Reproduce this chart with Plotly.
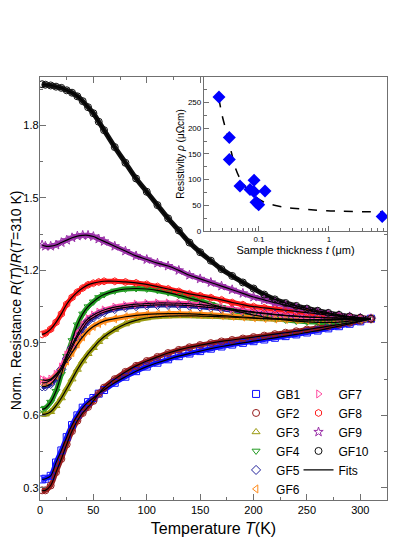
import plotly.graph_objects as go

# temperature grid (K) and normalised resistance R(T)/R(310 K) per sample
T = [2, 5, 10, 15, 20, 25, 30, 35, 40, 45, 50, 55, 60, 70, 80, 90, 100, 110, 120, 130,
     140, 150, 160, 170, 180, 190, 200, 210, 220, 230, 240, 250, 260, 270, 280, 290, 300, 310]

gb1 = [0.335, 0.338, 0.35, 0.405, 0.455, 0.51, 0.56, 0.60, 0.632, 0.655, 0.672, 0.69, 0.705,
       0.735, 0.76, 0.783, 0.802, 0.818, 0.832, 0.845, 0.856, 0.866, 0.876, 0.885, 0.893, 0.90,
       0.907, 0.914, 0.921, 0.928, 0.935, 0.943, 0.951, 0.96, 0.969, 0.979, 0.989, 1.0]
gf2 = [0.29, 0.29, 0.31, 0.365, 0.42, 0.48, 0.535, 0.578, 0.61, 0.635, 0.66, 0.69, 0.715,
       0.75, 0.78, 0.805, 0.825, 0.842, 0.858, 0.871, 0.882, 0.891, 0.899, 0.906, 0.912, 0.918,
       0.924, 0.93, 0.936, 0.942, 0.948, 0.955, 0.962, 0.969, 0.976, 0.983, 0.991, 1.0]
gf3 = [0.605, 0.605, 0.615, 0.64, 0.672, 0.71, 0.75, 0.79, 0.825, 0.855, 0.88, 0.905, 0.925,
       0.955, 0.978, 0.993, 1.003, 1.008, 1.011, 1.012, 1.012, 1.011, 1.01, 1.008, 1.006, 1.004,
       1.002, 1.0, 0.999, 0.998, 0.997, 0.996, 0.996, 0.996, 0.997, 0.998, 0.999, 1.0]
gf4 = [0.625, 0.63, 0.655, 0.70, 0.77, 0.845, 0.91, 0.975, 1.02, 1.05, 1.07, 1.088, 1.10,
       1.115, 1.123, 1.125, 1.123, 1.117, 1.108, 1.097, 1.085, 1.073, 1.06, 1.047, 1.035, 1.025,
       1.015, 1.007, 1.0, 0.995, 0.99, 0.987, 0.985, 0.985, 0.986, 0.99, 0.995, 1.0]
gf5 = [0.72, 0.72, 0.73, 0.755, 0.79, 0.835, 0.88, 0.925, 0.96, 0.99, 1.005, 1.018, 1.027,
       1.04, 1.047, 1.052, 1.055, 1.057, 1.057, 1.056, 1.054, 1.05, 1.046, 1.041, 1.036, 1.031,
       1.026, 1.021, 1.017, 1.013, 1.01, 1.007, 1.005, 1.003, 1.002, 1.001, 1.0, 1.0]
gf6 = [0.735, 0.735, 0.745, 0.765, 0.79, 0.825, 0.86, 0.895, 0.925, 0.95, 0.968, 0.98, 0.99,
       1.0, 1.008, 1.014, 1.018, 1.02, 1.021, 1.021, 1.02, 1.018, 1.016, 1.013, 1.01, 1.007,
       1.004, 1.001, 0.999, 0.997, 0.995, 0.994, 0.994, 0.994, 0.995, 0.996, 0.998, 1.0]
gf7 = [0.748, 0.745, 0.75, 0.77, 0.80, 0.85, 0.89, 0.935, 0.975, 1.0, 1.015, 1.027, 1.036,
       1.048, 1.055, 1.06, 1.063, 1.065, 1.065, 1.064, 1.062, 1.058, 1.053, 1.047, 1.04, 1.034,
       1.028, 1.023, 1.018, 1.014, 1.011, 1.008, 1.006, 1.004, 1.003, 1.002, 1.001, 1.0]
gf8 = [0.935, 0.94, 0.957, 0.985, 1.02, 1.06, 1.088, 1.11, 1.127, 1.14, 1.147, 1.152, 1.155,
       1.155, 1.152, 1.148, 1.142, 1.133, 1.123, 1.113, 1.103, 1.095, 1.087, 1.078, 1.067, 1.058,
       1.05, 1.045, 1.04, 1.035, 1.03, 1.025, 1.02, 1.015, 1.01, 1.007, 1.003, 1.0]
gf9 = [1.305, 1.30, 1.30, 1.305, 1.315, 1.325, 1.335, 1.342, 1.345, 1.345, 1.34, 1.33, 1.32,
       1.30, 1.28, 1.26, 1.245, 1.23, 1.218, 1.20, 1.18, 1.165, 1.15, 1.135, 1.12, 1.105,
       1.09, 1.078, 1.066, 1.055, 1.045, 1.036, 1.028, 1.02, 1.013, 1.008, 1.003, 1.0]
gf10 = [1.97, 1.968, 1.965, 1.96, 1.955, 1.945, 1.935, 1.92, 1.90, 1.875, 1.85, 1.815, 1.78,
        1.71, 1.645, 1.58, 1.525, 1.47, 1.415, 1.365, 1.315, 1.275, 1.24, 1.205, 1.177, 1.15,
        1.125, 1.1, 1.08, 1.065, 1.053, 1.042, 1.033, 1.024, 1.016, 1.009, 1.004, 1.0]

names = ["GB1", "GF2", "GF3", "GF4", "GF5", "GF6", "GF7", "GF8", "GF9", "GF10"]
series = [gb1, gf2, gf3, gf4, gf5, gf6, gf7, gf8, gf9, gf10]
colors = ["#1010ff", "#961c1c", "#9a9a10", "#229a22", "#20209a",
          "#ff8a1a", "#ff4aa0", "#ff1a1a", "#9a30a8", "#101010"]
symbols = ["square-open", "circle-open", "triangle-up-open", "triangle-down-open", "diamond-open",
           "triangle-left-open", "triangle-right-open", "hexagon-open", "star-open", "circle-open"]

# inset: resistivity vs sample thickness
thick = [0.0268, 0.0377, 0.0377, 0.0535, 0.0744, 0.085, 0.085, 0.0906, 0.099, 0.122, 5.77]
rho = [261, 182, 139.5, 87.5, 81, 99, 76.5, 56, 51, 78, 28]
thick_fit = [0.0268, 0.0293, 0.0327, 0.0365, 0.0407, 0.0454, 0.0535, 0.0667, 0.083, 0.115,
             0.179, 0.3, 0.93, 5.8]
rho_fit = [258, 229, 203, 177, 151, 125, 102, 83, 70, 57, 49, 44.5, 39.5, 37]

FONT = "Arial, Liberation Sans, sans-serif"
AXC = "#707070"

fig = go.Figure()

# coloured bands (dense measured points)
for n, y, c in zip(names, series, colors):
    fig.add_trace(go.Scatter(x=T, y=y, mode="lines", line=dict(color=c, width=5, shape="spline"),
                             showlegend=False, hoverinfo="skip"))

# markers
for i, (n, y, c, s) in enumerate(zip(names, series, colors, symbols)):
    fig.add_trace(go.Scatter(x=T, y=y, mode="markers", name=n,
                             marker=dict(symbol=s, size=7, color=c, line=dict(width=1, color=c)),
                             legend="legend" if i < 6 else "legend2"))

# fits
for i, y in enumerate(series):
    fig.add_trace(go.Scatter(x=T, y=y, mode="lines", name="Fits",
                             line=dict(color="black", width=1.2, shape="spline"),
                             showlegend=(i == 0), legend="legend2"))

# inset
fig.add_trace(go.Scatter(x=thick_fit, y=rho_fit, mode="lines", xaxis="x2", yaxis="y2",
                         line=dict(color="black", width=1.5, dash="dash", shape="spline"),
                         showlegend=False))
fig.add_trace(go.Scatter(x=thick, y=rho, mode="markers", xaxis="x2", yaxis="y2",
                         marker=dict(symbol="diamond", size=10, color="#0000ff"),
                         showlegend=False))

# page body adds 8 px offset, so the figure is 8 px smaller with shifted margins
fig.update_layout(
    width=407, height=529,
    margin=dict(l=32, r=28, t=69, b=37, autoexpand=False),
    paper_bgcolor="white", plot_bgcolor="white",
    font=dict(family=FONT, color="black", size=11),
    xaxis=dict(range=[0, 325], tickvals=[0, 50, 100, 150, 200, 250, 300], automargin=False,
               ticks="inside", ticklen=6, tickcolor=AXC, mirror="ticks",
               showline=True, linecolor=AXC, linewidth=1.3, showgrid=False, zeroline=False,
               minor=dict(ticks="inside", ticklen=3, dtick=25, tick0=0, tickcolor=AXC),
               tickfont=dict(size=11),
               title=dict(text="Temperature <i>T</i>(K)", font=dict(size=16), standoff=7)),
    yaxis=dict(range=[0.25, 2.0], tickvals=[0.3, 0.6, 0.9, 1.2, 1.5, 1.8], automargin=False,
               ticktext=["0.3", "0.6", "0.9", "1.2", "1.5", "1.8"], ticklabelstandoff=-2,
               ticks="inside", ticklen=6, tickcolor=AXC, mirror="ticks",
               showline=True, linecolor=AXC, linewidth=1.3, showgrid=False, zeroline=False,
               minor=dict(ticks="inside", ticklen=3, dtick=0.15, tick0=0.3, tickcolor=AXC),
               tickfont=dict(size=11)),
    xaxis2=dict(type="log", range=[-1.786, 0.83], domain=[0.4726, 1.0], anchor="y2",
                tickvals=[0.01, 0.1, 1], ticktext=["0.01", "0.1", "1"], automargin=False,
                ticks="inside", ticklen=5, tickcolor=AXC, showline=True, linecolor=AXC,
                linewidth=1.3, showgrid=False, zeroline=False,
                minor=dict(ticks="inside", ticklen=3, tickcolor=AXC, dtick="D1"),
                tickfont=dict(size=8),
                title=dict(text="Sample thickness <i>t</i> (μm)", font=dict(size=11), standoff=0)),
    yaxis2=dict(range=[0, 300], domain=[0.636, 1.0], anchor="x2", automargin=False,
                tickvals=[0, 50, 100, 150, 200, 250],
                ticks="inside", ticklen=5, tickcolor=AXC, showline=True, linecolor=AXC,
                linewidth=1.3, showgrid=False, zeroline=False,
                minor=dict(ticks="inside", ticklen=3, dtick=25, tickcolor=AXC),
                tickfont=dict(size=8),
                title=dict(text="Resistivity <i>ρ</i> (μΩcm)", font=dict(size=10), standoff=1)),
    legend=dict(x=0.565, y=0.285, xanchor="left", yanchor="top", bgcolor="rgba(0,0,0,0)",
                font=dict(size=12), tracegroupgap=0),
    legend2=dict(x=0.745, y=0.285, xanchor="left", yanchor="top", bgcolor="rgba(0,0,0,0)",
                 font=dict(size=12), tracegroupgap=0),
    annotations=[dict(text="Norm. Resistance <i>R</i>(<i>T</i>)/<i>R</i>(<i>T</i>=310 K)",
                      xref="paper", yref="paper", x=-0.068, y=0.473, textangle=-90,
                      xanchor="center", yanchor="middle", showarrow=False,
                      font=dict(size=14))],
)

fig.write_html("out.html")
